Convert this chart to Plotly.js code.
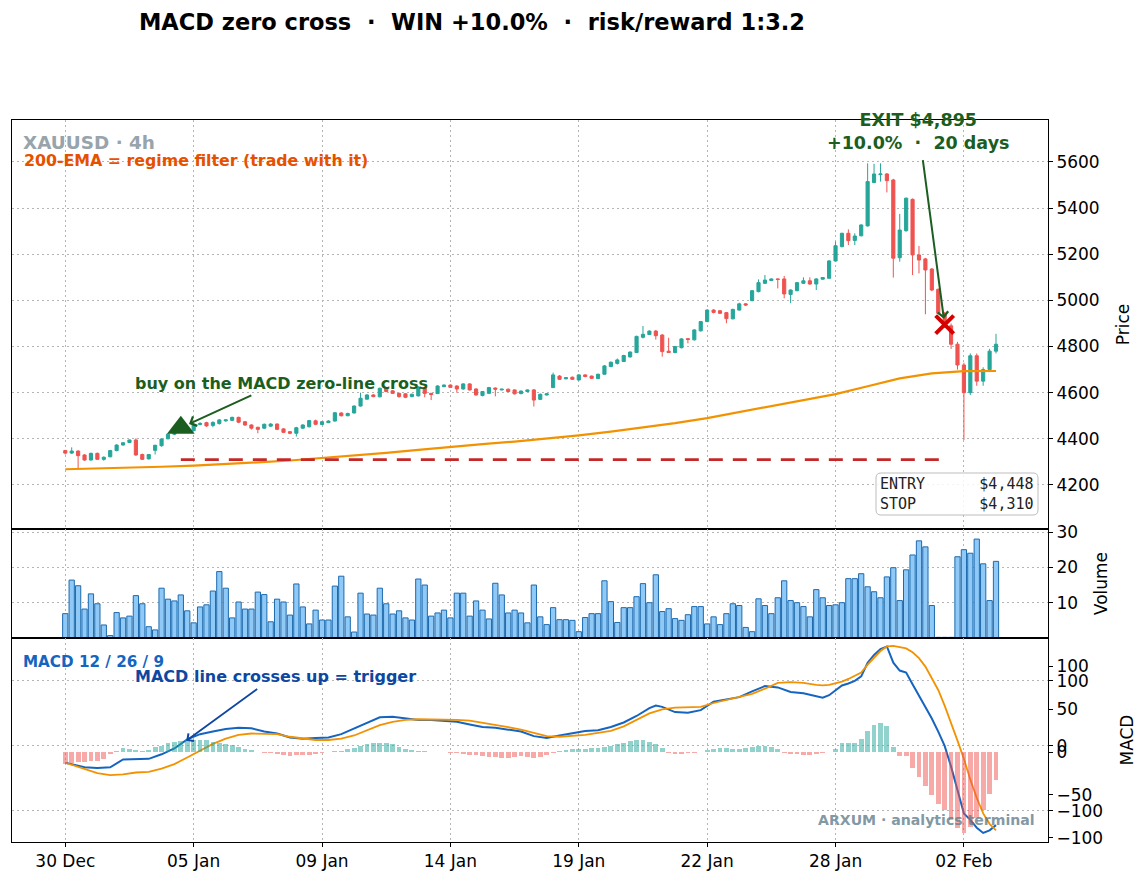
<!DOCTYPE html>
<html>
<head>
<meta charset="utf-8">
<script src="https://cdn.plot.ly/plotly-3.0.1.min.js"></script>
<style>
  html, body { margin: 0; padding: 0; background: #ffffff; }
  #chart { width: 1147px; height: 884px; }
</style>
</head>
<body>
<div id="chart"></div>
<script>
// ---- XAUUSD 4h candles (bar index on the x axis) ----
const tickBars   = [0, 20, 40, 60, 80, 100, 120, 140];
const tickLabels = ['30 Dec', '05 Jan', '09 Jan', '14 Jan', '19 Jan', '22 Jan', '28 Jan', '02 Feb'];

const openP = [
  4349,4338,4347,4330,4308,4337,4311,4322,4349,4373,4384,4395,4332,4313,4350,4370,4400,4420,4432,4450,
  4436,4462,4470,4458,4466,4478,4480,4493,4474,4460,4450,4446,4455,4464,4443,4431,4424,4446,4452,4478,
  4462,4470,4477,4512,4500,4512,4542,4572,4590,4582,4619,4608,4597,4595,4583,4586,4619,4597,4596,4626,
  4633,4629,4616,4638,4616,4588,4597,4620,4612,4615,4612,4596,4605,4612,4571,4590,4622,4672,4660,4667,
  4655,4677,4672,4661,4680,4713,4727,4735,4755,4774,4840,4852,4867,4850,4780,4774,4795,4834,4829,4868,
  4908,4958,4955,4947,4920,4958,4985,4999,5038,5074,5086,5093,5093,5026,5042,5074,5085,5071,5092,5096,
  5171,5233,5291,5260,5280,5323,5511,5545,5548,5522,5185,5302,5438,5197,5180,5136,5048,4944,4890,4810,
  4720,4600,4760,4650,4700,4780
];
const highP = [
  4352,4363,4350,4334,4340,4340,4324,4352,4376,4386,4397,4402,4336,4334,4374,4402,4424,4436,4452,4453,
  4466,4472,4474,4476,4486,4484,4496,4496,4477,4463,4452,4466,4468,4467,4446,4434,4452,4463,4482,4483,
  4477,4480,4516,4515,4513,4545,4600,4594,4594,4622,4624,4611,4600,4598,4596,4629,4622,4599,4632,4636,
  4636,4632,4641,4641,4619,4607,4625,4623,4617,4618,4614,4609,4614,4616,4596,4598,4687,4676,4668,4670,
  4680,4680,4674,4682,4720,4735,4748,4764,4779,4847,4889,4870,4872,4854,4838,4803,4836,4837,4875,4911,
  4962,4962,4958,4950,4964,4990,4988,5045,5091,5110,5095,5094,5106,5048,5080,5100,5100,5096,5101,5175,
  5255,5293,5308,5291,5330,5594,5592,5594,5552,5527,5375,5446,5442,5236,5184,5140,5052,4950,4900,4820,
  4730,4770,4770,4710,4790,4855
];
const lowP = [
  4332,4334,4272,4305,4306,4309,4305,4320,4346,4371,4382,4326,4308,4311,4332,4366,4398,4416,4428,4432,
  4433,4458,4452,4450,4462,4474,4477,4468,4456,4440,4424,4443,4452,4438,4425,4420,4410,4443,4450,4459,
  4459,4468,4475,4497,4498,4510,4540,4570,4580,4580,4602,4594,4578,4576,4580,4584,4580,4568,4594,4624,
  4620,4600,4613,4609,4587,4584,4594,4584,4610,4602,4592,4593,4603,4540,4568,4588,4620,4655,4658,4655,
  4653,4667,4659,4659,4678,4711,4722,4733,4752,4772,4835,4850,4830,4756,4772,4771,4792,4814,4826,4865,
  4906,4944,4941,4901,4918,4956,4976,4996,5035,5072,5084,5052,5009,4988,5040,5072,5068,5045,5090,5094,
  5168,5230,5240,5240,5278,5320,5508,5515,5468,5099,5168,5298,5110,5117,4940,5040,4940,4880,4790,4700,
  4395,4590,4630,4630,4690,4770
];
const closeP = [
  4338,4347,4327,4308,4337,4311,4320,4349,4373,4383,4395,4330,4311,4332,4372,4399,4420,4432,4446,4438,
  4463,4467,4456,4471,4482,4482,4493,4472,4460,4446,4441,4463,4464,4441,4428,4424,4448,4460,4479,4463,
  4474,4477,4513,4500,4510,4542,4576,4590,4583,4619,4605,4597,4583,4580,4593,4622,4597,4592,4629,4633,
  4623,4616,4638,4612,4590,4605,4622,4615,4615,4605,4595,4607,4612,4568,4593,4595,4677,4658,4665,4658,
  4677,4670,4662,4680,4716,4732,4742,4761,4776,4844,4853,4867,4847,4778,4774,4800,4833,4831,4872,4908,
  4958,4948,4944,4921,4961,4985,4980,5042,5077,5088,5093,5091,5028,5045,5077,5085,5071,5093,5099,5171,
  5237,5291,5259,5279,5327,5515,5548,5548,5519,5183,5305,5443,5197,5175,5132,5045,4944,4895,4810,4720,
  4600,4760,4650,4700,4780,4810
];
const volume = [
  6.9,16.4,14.8,8.2,12.5,9.7,3.7,0.7,7.2,5.7,6.2,12.0,9.7,3.2,2.3,14.1,11.0,10.5,12.2,7.7,
  4.3,8.8,9.4,13.3,18.8,14.1,5.7,10.2,8.2,8.2,13.0,12.3,4.6,11.0,10.2,6.5,15.3,8.8,4.0,7.9,
  5.1,5.1,14.7,17.5,6.0,1.7,12.7,6.8,6.5,14.1,9.7,6.8,7.7,5.7,5.1,16.7,15.0,6.2,7.1,7.9,
  5.7,12.7,12.7,6.2,10.5,7.9,5.4,15.5,12.2,7.1,7.9,7.1,4.3,15.0,6.0,3.8,8.6,5.2,5.2,5.0,
  1.8,5.8,6.9,6.9,16.2,10.3,4.4,8.6,8.6,11.7,15.4,10.0,17.9,7.5,8.3,5.5,5.0,6.6,8.9,8.9,
  4.0,6.0,3.8,6.9,9.7,9.2,3.0,1.8,11.1,9.2,6.9,11.4,16.2,10.6,10.0,8.9,6.0,13.7,11.4,9.2,
  9.4,10.0,16.8,16.8,18.2,14.5,13.1,11.4,17.3,19.9,10.6,19.3,23.5,27.5,25.8,9.2,0.2,0.2,0.2,23.0,
  25.0,24.0,28.0,21.0,10.6,21.7
];

// 200-period EMA, read every five bars
const emaBars = [0,5,10,15,20,25,30,35,40,45,50,55,60,65,70,75,80,85,90,95,100,105,110,115,120,125,130,135,140,145];
const ema200  = [4268,4271,4275,4279,4284,4290,4298,4306,4316,4327,4339,4352,4366,4377,4388,4400,4415,4431,4449,4468,
                 4490,4516,4544,4569,4594,4628,4662,4684,4693,4694];

// MACD 12/26/9: line and signal sampled at these bars
const macdBars = [0,3,5,7,9,11,13,15,17,19,21,23,25,27,29,31,33,35,37,39,41,43,45,47,49,51,53,55,57,59,
  61,63,65,67,69,71,73,75,77,79,81,83,85,87,89,91,92,93,95,97,99,101,103,105,107,109,111,113,115,117,
  118,119,120,121,122,123,124,125,126,127,128,129,130,131,132,133,134,135,136,137,138,139,140,141,142,143,144,145];
const macdLine = [-26,-33,-34,-33,-21,-20,-20,-13,-4,10,18,22,26,28,27,22,19,13,11,12,13,18,27,36,44,45,42,40,40,39,
  37,33,29,28,25,22,15,12,16,20,23,24,29,36,46,58,62,60,52,51,55,68,71,75,84,92,90,83,81,76,
  74,78,86,93,96,100,107,128,140,149,153,128,116,113,95,78,60,42,22,0,-32,-70,-104,-114,-126,-134,-130,-122];
const signalLine = [-26,-36,-42,-45,-44,-41,-40,-35,-28,-18,-8,3,11,17,19,19,18,14,11,9,9,11,16,24,32,37,40,41,41,41,
  40,39,36,33,29,25,20,15,14,15,17,20,23,30,40,50,53,56,59,60,60,66,71,75,80,88,97,98,97,94,
  93,94,96,99,103,108,113,125,136,146,153,154,152,150,144,135,122,105,86,62,36,8,-20,-52,-80,-104,-120,-130];
const histogram = [
  -14,-13,-12,-12,-11,-10,-8,-2,1,5,3,2,1,2,6,7,11,12,13,14,
  14,14,14,12,10,9,8,6,4,2,0.5,-1,-1.5,-2.5,-4,-5,-4,-4,-3,-2,
  -1,0.5,1,1.5,3,5,7,9,10,11,10,9,6,4,2,1.5,1,0.5,0.3,-0.5,
  -1,-1.5,-2,-3,-4,-5,-6,-6,-7,-7,-6,-5,-6,-7,-6,-4,-1,1,2,3,
  4,4,5,5,6,7,9,11,13,14,14,12,9,5,-1,-2,-2,-1.5,-1,-0.5,
  2,4,5,5,4,4,5,6,7,7,6,4,-1,-2,-2,-3,-3,-2,-1.5,-0.5,
  3,10,11,11,15,25,31,34,30,6,-5,-5,-19,-29,-39,-50,-61,-68,-79,-88,
  -94,-87,-77,-67,-49,-33
];

// trade
const entryBar = 18, entryPrice = 4448;
const stopPrice = 4310;
const exitBar = 137, exitPrice = 4895;

const bars = closeP.map((_, i) => i);
const histColors = histogram.map(v => v >= 0 ? 'rgba(38,166,154,0.5)' : 'rgba(239,83,80,0.5)');

const FONT = 'DejaVu Sans, sans-serif';
const GRID = '#b5b5b5';
const GRIDDASH = '2px,3px';
const xRange = [-8.3, 153.1];

const traces = [
  {
    type: 'candlestick', x: bars, open: openP, high: highP, low: lowP, close: closeP,
    xaxis: 'x', yaxis: 'y', whiskerwidth: 0,
    increasing: { line: { color: '#26a69a', width: 1 }, fillcolor: '#26a69a' },
    decreasing: { line: { color: '#ef5350', width: 1 }, fillcolor: '#ef5350' },
    hoverinfo: 'skip', showlegend: false
  },
  {
    type: 'scatter', mode: 'lines', x: emaBars, y: ema200, xaxis: 'x', yaxis: 'y',
    line: { color: '#f39200', width: 2.2 }, hoverinfo: 'skip', showlegend: false
  },
  {
    type: 'scatter', mode: 'lines', x: [entryBar, exitBar], y: [stopPrice, stopPrice], xaxis: 'x', yaxis: 'y',
    line: { color: '#c62828', width: 2.6, dash: '14px,10px' }, hoverinfo: 'skip', showlegend: false
  },
  {
    type: 'scatter', mode: 'markers', x: [entryBar], y: [entryPrice], xaxis: 'x', yaxis: 'y',
    marker: { symbol: 'triangle-up', size: 24, color: '#1b5e20' }, hoverinfo: 'skip', showlegend: false
  },
  {
    type: 'scatter', mode: 'markers', x: [exitBar], y: [exitPrice], xaxis: 'x', yaxis: 'y',
    marker: { symbol: 'x-thin', size: 18, line: { color: '#d50000', width: 4 } }, hoverinfo: 'skip', showlegend: false
  },
  {
    type: 'bar', x: bars, y: volume, xaxis: 'x2', yaxis: 'y2', width: 0.82,
    marker: { color: '#8ec9f7', line: { color: '#1e6aad', width: 1 } }, hoverinfo: 'skip', showlegend: false
  },
  {
    type: 'bar', x: bars, y: histogram, xaxis: 'x3', yaxis: 'y4', width: 0.75,
    marker: { color: histColors, line: { width: 0 } }, hoverinfo: 'skip', showlegend: false
  },
  {
    type: 'scatter', mode: 'lines', x: macdBars, y: macdLine, xaxis: 'x3', yaxis: 'y3',
    line: { color: '#1565c0', width: 2 }, hoverinfo: 'skip', showlegend: false
  },
  {
    type: 'scatter', mode: 'lines', x: macdBars, y: signalLine, xaxis: 'x3', yaxis: 'y3',
    line: { color: '#f39200', width: 1.8 }, hoverinfo: 'skip', showlegend: false
  }
];

function xAxis(anchor, withLabels) {
  return {
    anchor: anchor, domain: [0, 1], range: xRange, fixedrange: true,
    tickmode: 'array', tickvals: tickBars, ticktext: tickLabels,
    showticklabels: withLabels, ticks: withLabels ? 'outside' : '', ticklen: 4, tickcolor: '#000',
    showgrid: true, gridcolor: GRID, griddash: GRIDDASH, gridwidth: 1,
    showline: true, mirror: true, linecolor: '#000', linewidth: 1,
    zeroline: false, rangeslider: { visible: false },
    tickfont: { family: FONT, size: 17, color: '#000' }
  };
}
function yAxis(domain, range, ticks, title, grid) {
  return {
    domain: domain, range: range, side: 'right', fixedrange: true,
    tickmode: 'array', tickvals: ticks, ticks: 'outside', ticklen: 4, tickcolor: '#000',
    showgrid: grid, gridcolor: GRID, griddash: GRIDDASH, gridwidth: 1,
    showline: true, mirror: true, linecolor: '#000', linewidth: 1, zeroline: false,
    tickfont: { family: FONT, size: 17, color: '#000' },
    title: { text: title, font: { family: FONT, size: 17, color: '#000' }, standoff: 18 }
  };
}

// rounded info box behind the entry / stop readout (price-panel domain units)
const boxX0 = (876 - 12) / 1036, boxX1 = (1038 - 12) / 1036;
const boxY0 = (529 - 515) / 409, boxY1 = (529 - 473) / 409;
const rX = 5 / 1036, rY = 5 / 409;
const boxPath =
  'M ' + (boxX0 + rX) + ',' + boxY0 +
  ' L ' + (boxX1 - rX) + ',' + boxY0 +
  ' Q ' + boxX1 + ',' + boxY0 + ' ' + boxX1 + ',' + (boxY0 + rY) +
  ' L ' + boxX1 + ',' + (boxY1 - rY) +
  ' Q ' + boxX1 + ',' + boxY1 + ' ' + (boxX1 - rX) + ',' + boxY1 +
  ' L ' + (boxX0 + rX) + ',' + boxY1 +
  ' Q ' + boxX0 + ',' + boxY1 + ' ' + boxX0 + ',' + (boxY1 - rY) +
  ' L ' + boxX0 + ',' + (boxY0 + rY) +
  ' Q ' + boxX0 + ',' + boxY0 + ' ' + (boxX0 + rX) + ',' + boxY0 + ' Z';

const layout = {
  width: 1147, height: 884,
  margin: { l: 12, r: 99, t: 120, b: 42 },
  paper_bgcolor: '#ffffff', plot_bgcolor: '#ffffff',
  showlegend: false, bargap: 0, hovermode: false,
  title: {
    text: 'MACD zero cross  \u00b7  WIN +10.0%  \u00b7  risk/reward 1:3.2',
    x: 472 / 1147, xanchor: 'center', xref: 'container',
    y: 1 - 22 / 884, yanchor: 'middle', yref: 'container',
    font: { family: FONT, size: 22.5, weight: 'bold', color: '#000' }
  },
  xaxis:  xAxis('y', false),
  xaxis2: xAxis('y2', false),
  xaxis3: xAxis('y3', true),
  yaxis:  Object.assign(yAxis([0.4335, 1], [4009, 5782], [4200, 4400, 4600, 4800, 5000, 5200, 5400, 5600], 'Price', true), { anchor: 'x' }),
  yaxis2: Object.assign(yAxis([0.2825, 0.4335], [0, 30.85], [10, 20, 30], 'Volume', true), { anchor: 'x2' }),
  yaxis3: Object.assign(yAxis([0, 0.2825], [-148, 166], [-100, 0, 100], 'MACD', true), { anchor: 'x3' }),
  yaxis4: {
    overlaying: 'y3', anchor: 'x3', side: 'right', range: [-104.7, 132.6], fixedrange: true,
    tickmode: 'array', tickvals: [-100, -50, 0, 50, 100], ticks: 'outside', ticklen: 4, tickcolor: '#000',
    showgrid: false, zeroline: false, showline: false,
    tickfont: { family: FONT, size: 17, color: '#000' }
  },
  shapes: [
    {
      type: 'path', xref: 'x domain', yref: 'y domain', path: boxPath, layer: 'above',
      fillcolor: 'rgba(255,255,255,0.85)', line: { color: '#bdbdbd', width: 1 }
    }
  ],
  annotations: [
    {
      xref: 'x domain', yref: 'y domain', x: 9 / 1036, y: 0.944, xanchor: 'left', yanchor: 'middle',
      text: 'XAUUSD \u00b7 4h', showarrow: false,
      font: { family: FONT, size: 18.4, weight: 'bold', color: '#97a4ac' }
    },
    {
      xref: 'x domain', yref: 'y domain', x: 10 / 1036, y: 0.902, xanchor: 'left', yanchor: 'middle',
      text: '200-EMA = regime filter (trade with it)', showarrow: false,
      font: { family: FONT, size: 15.8, weight: 'bold', color: '#e65100' }
    },
    {
      xref: 'x domain', yref: 'y domain', x: (918 - 12) / 1036, y: (529 - 131.5) / 409, xanchor: 'center', yanchor: 'middle',
      text: 'EXIT $4,895<br>+10.0%  \u00b7  20 days', showarrow: false,
      font: { family: FONT, size: 17.5, weight: 'bold', color: '#1b5e20' }
    },
    {
      xref: 'x', yref: 'y', x: entryBar, y: entryPrice, text: '', showarrow: true,
      ax: 72, ay: -33, arrowhead: 4, arrowsize: 1, arrowwidth: 2, arrowcolor: '#1b5e20', standoff: 9
    },
    {
      xref: 'x domain', yref: 'y domain', x: (281 - 12) / 1036, y: (529 - 383) / 409, xanchor: 'center', yanchor: 'middle',
      text: 'buy on the MACD zero-line cross', showarrow: false,
      font: { family: FONT, size: 16, weight: 'bold', color: '#1b5e20' }
    },
    {
      xref: 'x', yref: 'y', x: exitBar, y: exitPrice, text: '', showarrow: true,
      ax: -22, ay: -166, arrowhead: 4, arrowsize: 1, arrowwidth: 2, arrowcolor: '#1b5e20', standoff: 6
    },
    {
      xref: 'x domain', yref: 'y domain', x: (957 - 12) / 1036, y: (529 - 494) / 409, xanchor: 'center', yanchor: 'middle',
      text: 'ENTRY      $4,448<br>STOP       $4,310', showarrow: false, align: 'left',
      font: { family: 'DejaVu Sans Mono, monospace', size: 15, color: '#222' }
    },
    {
      xref: 'x3 domain', yref: 'y3 domain', x: 9 / 1036, y: (842 - 662) / 204, xanchor: 'left', yanchor: 'middle',
      text: 'MACD 12 / 26 / 9', showarrow: false,
      font: { family: FONT, size: 15.2, weight: 'bold', color: '#1565c0' }
    },
    {
      xref: 'x3 domain', yref: 'y3 domain', x: (275 - 12) / 1036, y: (842 - 676) / 204, xanchor: 'center', yanchor: 'middle',
      text: 'MACD line crosses up = trigger', showarrow: false,
      font: { family: FONT, size: 16, weight: 'bold', color: '#0d47a1' }
    },
    {
      xref: 'x3', yref: 'y3', x: 18.6, y: 6, text: '', showarrow: true,
      ax: 74, ay: -54, arrowhead: 4, arrowsize: 1, arrowwidth: 1.8, arrowcolor: '#0d47a1', standoff: 2
    },
    {
      xref: 'x3 domain', yref: 'y3 domain', x: (1037 - 12) / 1036, y: (842 - 820) / 204, xanchor: 'right', yanchor: 'middle',
      text: 'ARXUM \u00b7 analytics terminal', showarrow: false,
      font: { family: FONT, size: 14.1, weight: 'bold', color: 'rgba(96,125,139,0.8)' }
    }
  ]
};

Plotly.newPlot('chart', traces, layout, { staticPlot: true, displayModeBar: false });
</script>
</body>
</html>
